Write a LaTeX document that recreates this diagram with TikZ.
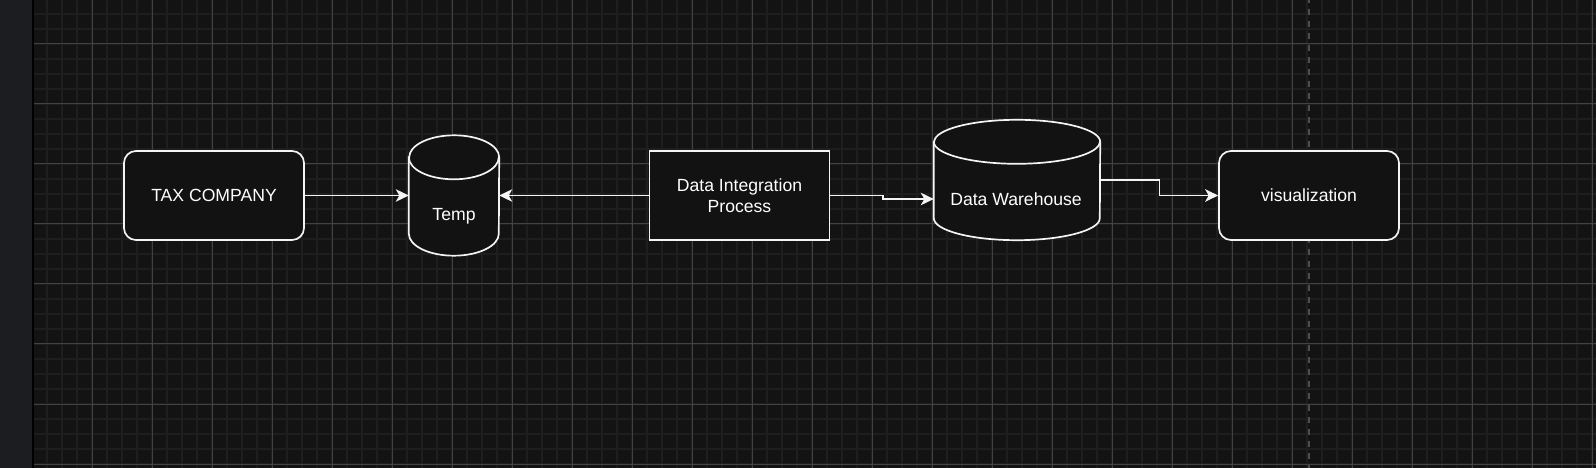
\documentclass[tikz,border=0pt]{standalone}
\usepackage{fontspec}
\setmainfont{Liberation Sans}
\usetikzlibrary{arrows.meta}
\definecolor{canvasbg}{RGB}{19,19,19}
\definecolor{panelbg}{RGB}{28,29,32}
\definecolor{minorgrid}{RGB}{30,30,30}
\definecolor{majorgrid}{RGB}{66,66,66}
\definecolor{guidegray}{RGB}{78,78,78}
\definecolor{nodefill}{RGB}{18,18,18}
\definecolor{inkwhite}{RGB}{244,244,244}
\newcommand{\cylbody}[2]{%
  \draw[shapeline, fill=nodefill]
    ([yshift=-22bp]#1.north west) -- ([yshift=22bp]#1.south west)
    arc[start angle=180, end angle=360, x radius=#2bp, y radius=22bp]
    -- ([yshift=-22bp]#1.north east)
    arc[start angle=0, end angle=180, x radius=#2bp, y radius=22bp] -- cycle;
  \draw[shapeline] ([yshift=-22bp]#1.north west)
    arc[start angle=180, end angle=360, x radius=#2bp, y radius=22bp];
}
\tikzset{
  shapeline/.style={draw=inkwhite, line width=1.7bp},
  boxtext/.style={text=white, font=\fontsize{17.6bp}{21.3bp}\selectfont},
  roundbox/.style={shapeline, fill=nodefill, rounded corners=12bp, minimum width=180bp,
    minimum height=89bp, inner sep=0pt, boxtext, text height=12.5bp, text depth=0bp},
  plainbox/.style={shapeline, fill=nodefill, minimum width=180bp, minimum height=89bp,
    inner sep=0pt, boxtext, align=center},
  cylnode/.style={draw=none, minimum height=120bp, inner sep=0pt},
  cyltext/.style={boxtext, inner sep=0pt, text height=12.5bp, text depth=0bp},
  conn/.style={draw=inkwhite, line width=1.7bp,
    -{Stealth[length=13bp, width=12.5bp, inset=3.5bp]}},
}
\begin{document}
\begin{tikzpicture}[x=1bp, y=-1bp]
\useasboundingbox (0,0) rectangle (1596,468);
% background
\fill[canvasbg] (0,0) rectangle (1596,468);
\fill[panelbg] (0,0) rectangle (32,468);
\fill[black] (32,0) rectangle (34,468);
% minor grid
\foreach \x in {47,62,...,1596} \draw[minorgrid, line width=1.5bp] (\x,0) -- (\x,468);
\foreach \y in {14,29,...,468} \draw[minorgrid, line width=1.5bp] (34,\y) -- (1596,\y);
% major grid
\foreach \x in {92,152,...,1596} \draw[majorgrid, line width=1bp] (\x,0) -- (\x,468);
\foreach \y in {44,104,...,468} \draw[majorgrid, line width=1bp] (34,\y) -- (1596,\y);
% page guide
\draw[guidegray, line width=2bp, dash pattern=on 6bp off 6bp, dash phase=2.7bp] (1309,0) -- (1309,468);

% nodes
\node[roundbox] (tax) at (214,195.5) {TAX COMPANY};
\node[cylnode, minimum width=90bp] (temp) at (454,195.5) {};
\cylbody{temp}{45}
\node[cyltext] (temptext) at (454,214.3) {Temp};
\node[plainbox] (dip) at (739.5,195.5) {Data Integration\\Process};
\node[cylnode, minimum width=166bp] (dw) at (1017,180) {};
\cylbody{dw}{83}
\node[cyltext] (dwtext) at (1016,199.3) {Data Warehouse};
\node[roundbox] (vis) at (1309,195.5) {visualization};

% connectors
\draw[conn] (tax.east) -- (temp.west);
\draw[conn] (dip.west) -- (temp.east);
\draw[conn] (dip.east) -- ([xshift=52.5bp]dip.east) |- ([yshift=-19bp]dw.west);
\draw[conn] (dw.east) -- ([xshift=59.3bp]dw.east) |- (vis.west);
\end{tikzpicture}
\end{document}
